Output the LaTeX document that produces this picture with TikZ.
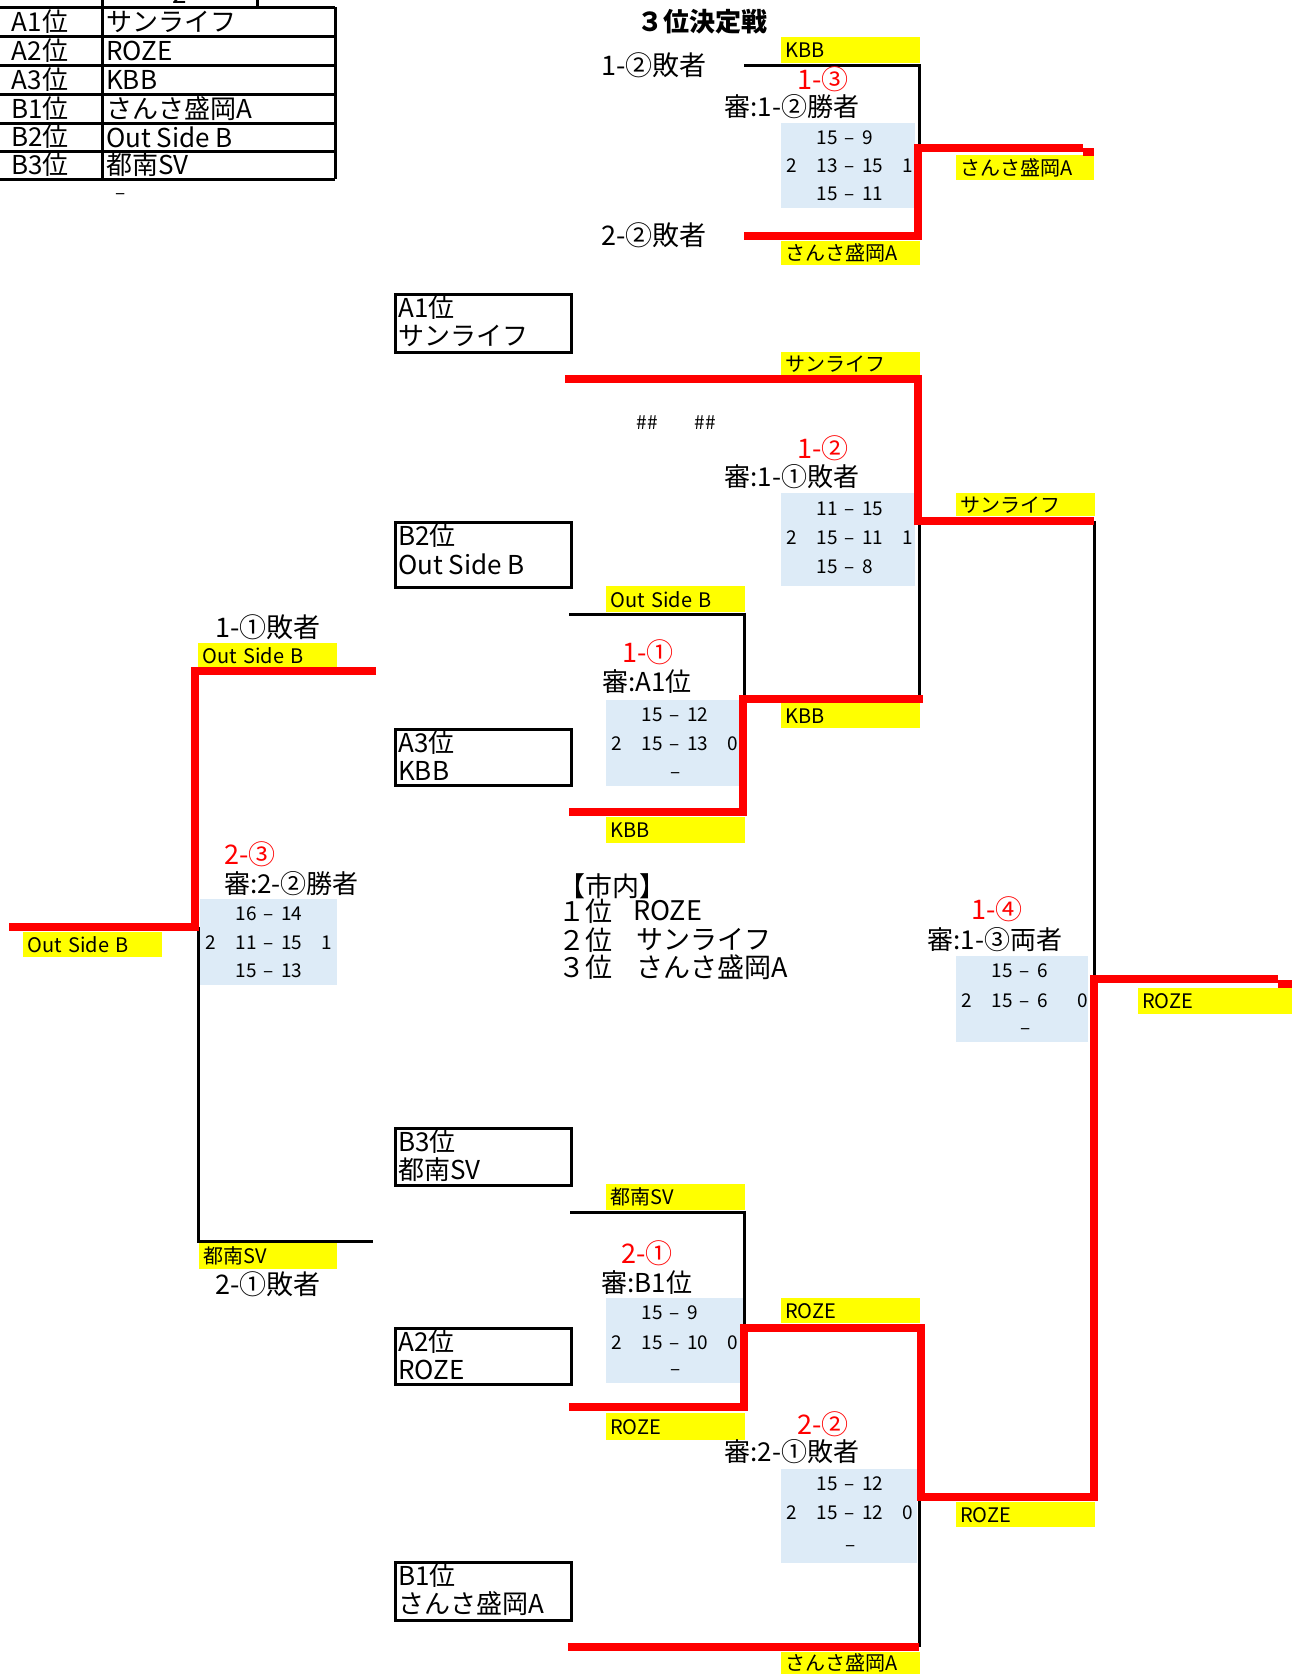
\documentclass[tikz,border=0pt]{standalone}
\usepackage{fontspec}
\setmainfont{Noto Sans CJK JP}
\definecolor{rd}{HTML}{FF0000}
\definecolor{yl}{HTML}{FFFF00}
\definecolor{bl}{HTML}{DDEBF7}
\tikzset{
 redln/.style={draw=rd, line width=8pt},
 blkln/.style={draw=black, line width=3pt},
 tblline/.style={draw=black, line width=3pt},
 teambox/.style={draw=black, line width=3pt, anchor=north west, inner sep=0pt},
 bbox/.style={fill=bl, anchor=north west, inner sep=0pt},
 ylab/.style={fill=yl, anchor=north west, inner sep=0pt, inner xsep=4pt, align=left, font=\fontsize{20}{22}\selectfont},
 tbl/.style={inner sep=0pt, font=\fontsize{26}{28}\selectfont},
 tbtext/.style={inner sep=0pt, anchor=west, font=\fontsize{26}{28}\selectfont},
 sc/.style={inner sep=0pt, font=\fontsize{19}{21}\selectfont},
 rlab/.style={inner sep=0pt, text=rd, font=\fontsize{27}{29}\selectfont},
 reflab/.style={inner sep=0pt, font=\fontsize{26}{28}\selectfont},
 big/.style={inner sep=0pt, font=\fontsize{27}{29}\selectfont},
}
\newcommand\ylab[6]{%
 \pgfmathsetmacro\ylw{#4-#2-8}\pgfmathsetmacro\ylh{#5-#3}%
 \node[ylab, text width=\ylw pt, minimum height=\ylh pt] (#1) at (#2,#3) {#6};}
\newcommand\bluebox[5]{%
 \pgfmathsetmacro\blw{#4-#2}\pgfmathsetmacro\blh{#5-#3}%
 \node[bbox, minimum width=\blw pt, minimum height=\blh pt] (#1) at (#2,#3) {};}
\newcommand\team[7]{%
 \pgfmathsetmacro\tmw{#4-#2}\pgfmathsetmacro\tmh{#5-#3}%
 \node[teambox, minimum width=\tmw pt, minimum height=\tmh pt] (#1) at (#2,#3) {};
 \node[tbtext] (#1x) at (#2+4,#3+15) {#6};
 \node[tbtext] (#1y) at (#2+4,#3+43) {#7};}
\newcommand\srow[7]{%
 \node[sc, anchor=base] (#1l) at (#2+11,#3+7) {#4};
 \node[sc, anchor=base east] (#1a) at (#2+57,#3+7) {#5};
 \node[sc, anchor=base] (#1d) at (#2+69,#3+7) {–};
 \node[sc, anchor=base west] (#1b) at (#2+81,#3+7) {#6};
 \node[sc, anchor=base] (#1r) at (#2+127,#3+7) {#7};}
\newcommand\mrow[5]{%
 \node[sc, anchor=base east] (#1a) at (#2+57,#3+7) {#4};
 \node[sc, anchor=base] (#1d) at (#2+69,#3+7) {–};
 \node[sc, anchor=base west] (#1b) at (#2+81,#3+7) {#5};}
\newcommand\drow[3]{%
 \node[sc, anchor=base] (#1d) at (#2+70,#3+7) {–};}
\begin{document}
\begin{tikzpicture}[x=1pt,y=-1pt]
\useasboundingbox (0,0) rectangle (1300,1674);
\fill[white] (0,0) rectangle (1300,1674);

% ---------- top-left table ----------
\foreach \yy in {7,36,65,94,123,151,179} { \draw[tblline] (0,\yy) -- (335,\yy); }
\draw[tblline] (102,0) -- (102,179);
\draw[tblline] (335,7) -- (335,179);
\draw[tblline] (257,0) -- (257,7);
\node[tbl, anchor=base] (thead) at (180,3) {2};
\foreach \r/\yy/\a/\b in {1/21.5/A1位/サンライフ, 2/50.5/A2位/ROZE, 3/79.5/A3位/KBB, 4/108.5/B1位/さんさ盛岡A, 5/137/B2位/Out Side B, 6/165/B3位/都南SV} {
 \node[tbl] (ta\r) at (40,\yy) {\a};
 \node[tbl, anchor=west] (tb\r) at (106,\yy) {\b};
}
\node[sc, anchor=base] (tdash) at (121,199) {–};

% ---------- blue score boxes ----------
\bluebox{b13}{781}{123}{915}{208}
\bluebox{b12}{781}{493}{915}{586}
\bluebox{b11}{606}{700}{739}{786}
\bluebox{b23}{200}{899}{337}{985}
\bluebox{b14}{956}{956}{1088}{1042}
\bluebox{b21}{606}{1298}{743}{1383}
\bluebox{b22}{781}{1469}{917}{1563}

% ---------- yellow labels ----------
\ylab{y1}{781}{37}{920}{63}{KBB}
\ylab{y2}{956}{155}{1094}{180}{さんさ盛岡A}
\ylab{y3}{781}{241}{920}{265}{さんさ盛岡A}
\ylab{y4}{781}{352}{920}{375}{サンライフ}
\ylab{y5}{956}{493}{1095}{516}{サンライフ}
\ylab{y6}{606}{586}{745}{612}{Out Side B}
\ylab{y7}{781}{703}{920}{728}{KBB}
\ylab{y8}{606}{817}{745}{843}{KBB}
\ylab{y9}{198}{643}{337}{667}{Out Side B}
\ylab{y10}{23}{932}{162}{957}{Out Side B}
\ylab{y11}{1138}{988}{1292}{1014}{ROZE}
\ylab{y12}{606}{1184}{745}{1210}{都南SV}
\ylab{y13}{199}{1243}{337}{1269}{都南SV}
\ylab{y14}{781}{1298}{920}{1323}{ROZE}
\ylab{y15}{606}{1413}{745}{1440}{ROZE}
\ylab{y16}{956}{1502}{1095}{1527}{ROZE}
\ylab{y17}{781}{1652}{920}{1674}{さんさ盛岡A}

% ---------- team boxes ----------
\team{A1}{394}{293}{570}{351}{A1位}{サンライフ}
\team{B2}{394}{521}{570}{586}{B2位}{Out Side B}
\team{A3}{394}{728}{570}{784}{A3位}{KBB}
\team{B3}{394}{1127}{570}{1184}{B3位}{都南SV}
\team{A2}{394}{1327}{570}{1383}{A2位}{ROZE}
\team{B1}{394}{1561}{570}{1619}{B1位}{さんさ盛岡A}

% ---------- bracket coordinates ----------
\coordinate (tpA) at (744,65);  \coordinate (tpAc) at (919,65);
\coordinate (tpM) at (919,148); \coordinate (tpMr) at (918,148);
\coordinate (tpBc) at (918,236); \coordinate (tpB) at (744,236);
\coordinate (tpW) at (1083,148); \coordinate (tpW2a) at (1083,152); \coordinate (tpW2) at (1094,152);

\coordinate (s1a) at (565,379); \coordinate (s1ac) at (918,379);
\coordinate (s1m) at (918,521); \coordinate (s1w) at (1094,521);
\coordinate (s1mb) at (919,521); \coordinate (s1bc) at (919,699); \coordinate (s1bx) at (923,699);
\coordinate (q1a) at (569,614); \coordinate (q1ac) at (744,614); \coordinate (q1m) at (744,699);
\coordinate (q1mr) at (743,699); \coordinate (q1bc) at (743,812); \coordinate (q1b) at (569,812);

\coordinate (fm) at (1094,979); \coordinate (fw) at (1278,979);
\coordinate (fw2a) at (1278,984); \coordinate (fw2) at (1292,984);
\coordinate (fbc) at (1094,1497); \coordinate (s2m) at (921,1497);
\coordinate (s2ac) at (921,1328); \coordinate (q2m) at (744,1328);
\coordinate (q2bc) at (744,1407); \coordinate (q2b) at (569,1407);
\coordinate (q2a) at (570,1212); \coordinate (q2ac) at (744,1212);
\coordinate (s2mb) at (919,1497); \coordinate (s2bc) at (919,1647); \coordinate (s2b) at (568,1647);

\coordinate (l1a) at (376,671); \coordinate (l1ac) at (195,671);
\coordinate (lm) at (195,927); \coordinate (lw) at (9,927);
\coordinate (lmb) at (198,927); \coordinate (l2ac) at (198,1241); \coordinate (l2a) at (373,1241);

% ---------- black lines ----------
\draw[blkln] (tpA) -- (tpAc) -- (tpM);
\draw[blkln] (s1mb) -- (s1bc);
\draw[blkln] (q1a) -- (q1ac) -- (q1m);
\draw[blkln] (s1w) -- (fm);
\draw[blkln] (q2a) -- (q2ac) -- (q2m);
\draw[blkln] (s2mb) -- (s2bc);
\draw[blkln] (lmb) -- (l2ac) -- (l2a);

% ---------- red lines ----------
\draw[redln] (tpB) -- (tpBc) -- (tpMr) -- (tpW);
\draw[redln] (tpW2a) -- (tpW2);
\draw[redln] (s1a) -- (s1ac) -- (s1m) -- (s1w);
\draw[redln] (q1b) -- (q1bc) -- (q1mr) -- (s1bx);
\draw[redln] (fw) -- (fm) -- (fbc) -- (s2m) -- (s2ac) -- (q2m) -- (q2bc) -- (q2b);
\draw[redln] (fw2a) -- (fw2);
\draw[redln] (s2bc) -- (s2b);
\draw[redln] (l1a) -- (l1ac) -- (lm) -- (lw);

% ---------- 3rd place ----------
\node[inner sep=0pt, font=\fontsize{26}{28}\selectfont\bfseries] (title) at (702,22) {３位決定戦};
\node[big, anchor=west] (tpl1) at (601,65) {1-②敗者};
\node[big, anchor=west] (tpl2) at (601,235) {2-②敗者};
\node[rlab] (r13) at (823,79) {1-③};
\node[reflab] (f13) at (792,107) {審:1-②勝者};
\srow{s13a}{781}{137}{}{15}{9}{}
\srow{s13b}{781}{165}{2}{13}{15}{1}
\mrow{s13c}{781}{193}{15}{11}

% ---------- 1-2 ----------
\node[sc] (hash1) at (647,423) {\#\#};
\node[sc] (hash2) at (705,423) {\#\#};
\node[rlab] (r12) at (823,448) {1-②};
\node[reflab] (f12) at (792,477) {審:1-①敗者};
\mrow{s12a}{781}{508}{11}{15}
\srow{s12b}{781}{537}{2}{15}{11}{1}
\mrow{s12c}{781}{566}{15}{8}

% ---------- 1-1 ----------
\node[rlab] (r11) at (648,652) {1-①};
\node[reflab] (f11) at (647,682) {審:A1位};
\mrow{s11a}{606}{714}{15}{12}
\srow{s11b}{606}{743}{2}{15}{13}{0}
\drow{s11c}{606}{771}

% ---------- 2-3 ----------
\node[big] (lb1) at (268,627) {1-①敗者};
\node[rlab, anchor=west] (r23) at (224,854) {2-③};
\node[reflab, anchor=west] (f23) at (224,884) {審:2-②勝者};
\mrow{s23a}{200}{913}{16}{14}
\srow{s23b}{200}{942}{2}{11}{15}{1}
\mrow{s23c}{200}{970}{15}{13}
\node[big] (lb2) at (268,1284) {2-①敗者};

% ---------- result ----------
\node[big, anchor=west] (res0) at (558,886) {【市内】};
\node[big, anchor=west] (res1a) at (558,911) {１位};
\node[big, anchor=west] (res1b) at (633,911) {ROZE};
\node[big, anchor=west] (res2a) at (558,940) {２位};
\node[big, anchor=west] (res2b) at (636,940) {サンライフ};
\node[big, anchor=west] (res3a) at (558,967) {３位};
\node[big, anchor=west] (res3b) at (636,967) {さんさ盛岡A};

% ---------- 1-4 ----------
\node[rlab] (r14) at (997,909) {1-④};
\node[reflab] (f14) at (995,940) {審:1-③両者};
\mrow{s14a}{956}{970}{15}{6}
\srow{s14b}{956}{1000}{2}{15}{6}{0}
\drow{s14c}{956}{1027}

% ---------- 2-1 ----------
\node[rlab] (r21) at (647,1253) {2-①};
\node[reflab] (f21) at (647,1283) {審:B1位};
\mrow{s21a}{606}{1312}{15}{9}
\srow{s21b}{606}{1342}{2}{15}{10}{0}
\drow{s21c}{606}{1368}

% ---------- 2-2 ----------
\node[rlab] (r22) at (823,1424) {2-②};
\node[reflab] (f22) at (792,1452) {審:2-①敗者};
\mrow{s22a}{781}{1483}{15}{12}
\srow{s22b}{781}{1512}{2}{15}{12}{0}
\drow{s22c}{781}{1544}
\end{tikzpicture}
\end{document}
